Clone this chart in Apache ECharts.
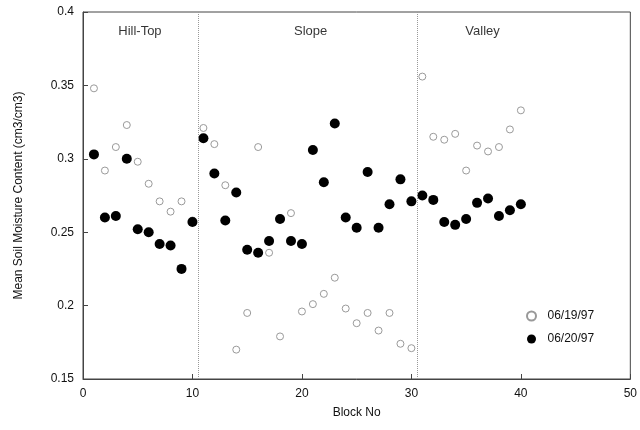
<!DOCTYPE html>
<html>
<head>
<meta charset="utf-8">
<script src="https://cdn.jsdelivr.net/npm/echarts@6/dist/echarts.min.js"></script>
<style>
  html, body { margin: 0; padding: 0; background: #fff; }
  #chart { width: 640px; height: 430px; }
</style>
</head>
<body>
<div id="chart"></div>
<script>
var blocks = [1,2,3,4,5,6,7,8,9,10,11,12,13,14,15,16,17,18,19,20,
              21,22,23,24,25,26,27,28,29,30,31,32,33,34,35,36,37,38,39,40];
var june19 = [0.348,0.292,0.308,0.323,0.298,0.283,0.271,0.264,0.271,0.258,
              0.321,0.310,0.282,0.170,0.195,0.308,0.236,0.179,0.263,0.196,
              0.201,0.208,0.219,0.198,0.188,0.195,0.183,0.195,0.174,0.171,
              0.356,0.315,0.313,0.317,0.292,0.309,0.305,0.308,0.320,0.333];
var june20 = [0.303,0.260,0.261,0.300,0.252,0.250,0.242,0.241,0.225,0.257,
              0.314,0.290,0.258,0.277,0.238,0.236,0.244,0.259,0.244,0.242,
              0.306,0.284,0.324,0.260,0.253,0.291,0.253,0.269,0.286,0.271,
              0.275,0.272,0.257,0.255,0.259,0.270,0.273,0.261,0.265,0.269];
var regionNames = ['Hill-Top', 'Slope', 'Valley'];
var regionCenters = [5.2, 20.8, 36.5];
var regionBounds = [10.5, 30.5];

var font = 'Liberation Sans, Arial, sans-serif';

function pairs(xs, ys) {
  return xs.map(function (x, i) { return [x, ys[i]]; });
}

echarts.init(document.getElementById('chart')).setOption({
  animation: false,
  textStyle: { fontFamily: font },
  grid: {
    left: 83,
    right: 7,
    top: 12,
    bottom: 51,
    show: true,
    borderColor: '#444',
    borderWidth: 1
  },
  legend: {
    orient: 'vertical',
    left: 521,
    top: 305,
    itemWidth: 22,
    itemHeight: 9,
    itemGap: 11,
    data: ['06/19/97', '06/20/97'],
    textStyle: { color: '#111', fontSize: 12, fontFamily: font }
  },
  xAxis: {
    type: 'value',
    min: 0,
    max: 50,
    interval: 10,
    name: 'Block No',
    nameLocation: 'middle',
    nameGap: 28,
    nameTextStyle: { color: '#111', fontSize: 12 },
    axisLine: { lineStyle: { color: '#444' } },
    axisTick: { inside: true, length: 5, lineStyle: { color: '#444' } },
    axisLabel: { color: '#111', fontSize: 12, margin: 9 },
    splitLine: { show: false }
  },
  yAxis: {
    type: 'value',
    min: 0.15,
    max: 0.4,
    interval: 0.05,
    name: 'Mean Soil Moisture Content (cm3/cm3)',
    nameLocation: 'middle',
    nameGap: 58,
    nameTextStyle: { color: '#111', fontSize: 12 },
    axisLine: { lineStyle: { color: '#444' } },
    axisTick: { inside: true, length: 5, lineStyle: { color: '#444' } },
    axisLabel: { color: '#111', fontSize: 12, margin: 9 },
    splitLine: { show: false }
  },
  series: [
    {
      name: '06/19/97',
      type: 'scatter',
      symbol: 'circle',
      symbolSize: 7,
      itemStyle: { color: '#fff', borderColor: '#999', borderWidth: 1, opacity: 1 },
      data: pairs(blocks, june19),
      markLine: {
        silent: true,
        symbol: 'none',
        label: { show: false },
        lineStyle: { color: '#999', type: 'dotted', width: 1 },
        data: regionBounds.map(function (b) { return { xAxis: b }; })
      }
    },
    {
      name: '06/20/97',
      type: 'scatter',
      symbol: 'circle',
      symbolSize: 10,
      itemStyle: { color: '#000', opacity: 1 },
      data: pairs(blocks, june20)
    },
    {
      name: 'regions',
      type: 'scatter',
      symbolSize: 0,
      silent: true,
      label: {
        show: true,
        position: 'inside',
        color: '#000',
        fontSize: 13,
        formatter: function (p) { return regionNames[p.dataIndex]; }
      },
      data: regionCenters.map(function (x) { return [x, 0.387]; })
    }
  ]
});
</script>
</body>
</html>
